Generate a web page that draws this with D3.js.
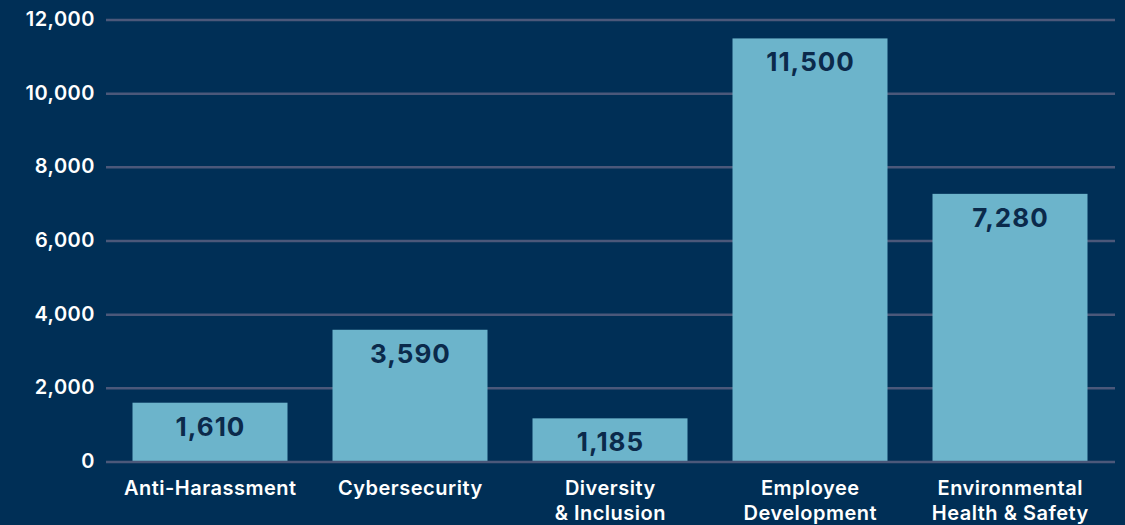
<!DOCTYPE html>
<html>
<head>
<meta charset="utf-8">
<script src="https://cdn.jsdelivr.net/npm/d3@7"></script>
<style>
  html, body { margin: 0; padding: 0; background: #002f56; }
  svg { display: block; }
  text { font-family: Inter, "Noto Sans", sans-serif; }
</style>
</head>
<body>
<svg id="chart" width="1125" height="525"></svg>
<script>
const categories = [
  ["Anti-Harassment"],
  ["Cybersecurity"],
  ["Diversity", "& Inclusion"],
  ["Employee", "Development"],
  ["Environmental", "Health & Safety"]
];
const values = [1610, 3590, 1185, 11500, 7280];
const yTicks = [0, 2000, 4000, 6000, 8000, 10000, 12000];

const W = 1125, H = 525;
const svg = d3.select("#chart");
svg.append("rect").attr("width", W).attr("height", H).attr("fill", "#002f56");

const keys = categories.map(c => c.join(" "));
const x = d3.scaleBand().domain(keys).range([110, 1110]).paddingInner(0.225).paddingOuter(0.1125);
const y = d3.scaleLinear().domain([0, 12000]).range([462, 20]);

const fmt = d3.format(",");

// gridlines + y labels
const yAxis = svg.append("g").attr("transform", "translate(106,0)")
  .call(d3.axisLeft(y).tickValues(yTicks).tickFormat(fmt).tickSize(0).tickPadding(11));
yAxis.select(".domain").remove();
yAxis.selectAll("text")
  .attr("fill", "#ffffff").attr("font-size", 20).attr("font-weight", 600)
  .attr("letter-spacing", "0.5px")
  .attr("dy", "0.28em");

svg.append("g").selectAll("line").data(yTicks.filter(t => t !== 0)).join("line")
  .attr("x1", 106).attr("x2", 1115)
  .attr("y1", d => y(d)).attr("y2", d => y(d))
  .attr("stroke", "#4b587a").attr("stroke-width", 2.5);

// bars
svg.append("g").selectAll("rect").data(values).join("rect")
  .attr("x", (d, i) => x(keys[i]))
  .attr("width", x.bandwidth())
  .attr("y", d => y(d))
  .attr("height", d => y(0) - y(d))
  .attr("fill", "#6cb4cb");

// zero line
svg.append("line").attr("x1", 106).attr("x2", 1115)
  .attr("y1", y(0)).attr("y2", y(0))
  .attr("stroke", "#4b587a").attr("stroke-width", 2.5);

// value labels
svg.append("g").selectAll("text").data(values).join("text")
  .attr("x", (d, i) => x(keys[i]) + x.bandwidth() / 2 + 0.5)
  .attr("y", d => y(d) + 33)
  .attr("text-anchor", "middle")
  .attr("fill", "#0b2a4b").attr("font-size", 26).attr("font-weight", 700)
  .attr("letter-spacing", "1px")
  .text(d => fmt(d));

// category labels
const cat = svg.append("g").selectAll("text").data(categories).join("text")
  .attr("x", (d, i) => x(keys[i]) + x.bandwidth() / 2 + 0.3)
  .attr("y", 495)
  .attr("text-anchor", "middle")
  .attr("fill", "#ffffff").attr("font-size", 20).attr("font-weight", 600)
  .attr("letter-spacing", "0.5px");
cat.selectAll("tspan").data(d => d).join("tspan")
  .attr("x", function() { return this.parentNode.getAttribute("x"); })
  .attr("dy", (d, i) => i === 0 ? 0 : 25)
  .text(d => d);
</script>
</body>
</html>
